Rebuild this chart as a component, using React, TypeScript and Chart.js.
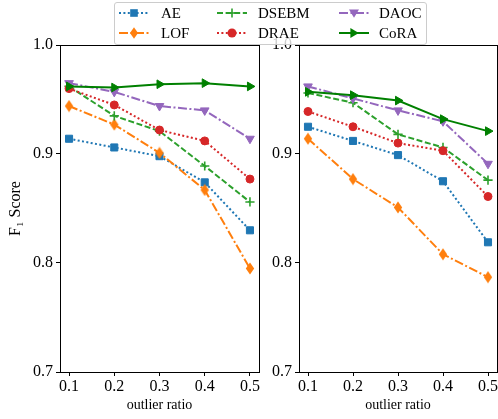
import React, { useEffect, useRef } from 'react';
import { Chart, registerables } from 'chart.js';

Chart.register(...registerables);

const ratios = [0.1, 0.2, 0.3, 0.4, 0.5];
const xTicks = [0.1, 0.2, 0.3, 0.4, 0.5];
const yTicks = [0.7, 0.8, 0.9, 1.0];
const methods = ['AE', 'LOF', 'DSEBM', 'DRAE', 'DAOC', 'CoRA'];

// left panel
const leftAE = [0.914, 0.906, 0.898, 0.874, 0.83];
const leftLOF = [0.944, 0.927, 0.901, 0.867, 0.795];
const leftDSEBM = [0.962, 0.935, 0.921, 0.889, 0.856];
const leftDRAE = [0.96, 0.945, 0.922, 0.912, 0.877];
const leftDAOC = [0.965, 0.957, 0.944, 0.94, 0.914];
const leftCoRA = [0.962, 0.961, 0.964, 0.965, 0.962];

// right panel
const rightAE = [0.925, 0.912, 0.899, 0.875, 0.819];
const rightLOF = [0.914, 0.877, 0.851, 0.808, 0.787];
const rightDSEBM = [0.956, 0.947, 0.918, 0.906, 0.876];
const rightDRAE = [0.939, 0.925, 0.91, 0.903, 0.861];
const rightDAOC = [0.962, 0.951, 0.94, 0.93, 0.891];
const rightCoRA = [0.957, 0.954, 0.949, 0.932, 0.921];

const leftSeries = [leftAE, leftLOF, leftDSEBM, leftDRAE, leftDAOC, leftCoRA];
const rightSeries = [rightAE, rightLOF, rightDSEBM, rightDRAE, rightDAOC, rightCoRA];

const colors = ['#1f77b4', '#ff7f0e', '#2ca02c', '#d62728', '#9467bd', '#008000'];
const dashes = [[2, 2.4], [9, 2.5, 2, 2.5], [6, 2.6], [2, 2.4], [9, 2.5, 2, 2.5], []];

const FONT = "'Liberation Serif', 'Times New Roman', 'DejaVu Serif', serif";

const PAGE_W = 498;
const PAGE_H = 419;
const RIGHT_CANVAS_W = 512;
const LINE_W = 2;

function thinDiamond(color: string) {
  const c = document.createElement('canvas');
  c.width = 10;
  c.height = 13;
  const ctx = c.getContext('2d')!;
  ctx.fillStyle = color;
  ctx.beginPath();
  ctx.moveTo(5, 0.5);
  ctx.lineTo(9.2, 6.5);
  ctx.lineTo(5, 12.5);
  ctx.lineTo(0.8, 6.5);
  ctx.closePath();
  ctx.fill();
  return c;
}

function pointProps(i: number) {
  const col = colors[i];
  switch (i) {
    case 0:
      return { pointStyle: 'rect', pointRadius: 5, pointBorderWidth: 1, pointRotation: 0 };
    case 1:
      return { pointStyle: thinDiamond(col), pointRadius: 5, pointBorderWidth: 0, pointRotation: 0 };
    case 2:
      return { pointStyle: 'cross', pointRadius: 4.6, pointBorderWidth: 1.6, pointRotation: 0 };
    case 3:
      return { pointStyle: 'circle', pointRadius: 4, pointBorderWidth: 1, pointRotation: 0 };
    case 4:
      return { pointStyle: 'triangle', pointRadius: 5, pointBorderWidth: 1, pointRotation: 180 };
    default:
      return { pointStyle: 'triangle', pointRadius: 5, pointBorderWidth: 1, pointRotation: 90 };
  }
}

const boxPlugin = {
  id: 'box',
  afterDraw(chart: any) {
    const { left, top, right, bottom } = chart.chartArea;
    const ctx = chart.ctx;
    ctx.save();
    ctx.strokeStyle = '#000';
    ctx.lineWidth = 1;
    ctx.strokeRect(Math.round(left) + 0.5, Math.round(top) + 0.5, Math.round(right - left), Math.round(bottom - top));
    ctx.restore();
  },
};

function makeConfig(series: number[][], isLeft: boolean): any {
  const datasets = series.map((vals, i) => ({
    label: methods[i],
    data: ratios.map((x, j) => ({ x, y: vals[j] })),
    borderColor: colors[i],
    backgroundColor: colors[i],
    pointBackgroundColor: colors[i],
    pointBorderColor: colors[i],
    borderWidth: LINE_W,
    borderDash: dashes[i],
    borderCapStyle: 'butt',
    tension: 0,
    fill: false,
    order: 5 - i,
    ...pointProps(i),
  }));
  return {
    type: 'line',
    data: { datasets },
    plugins: [boxPlugin],
    options: {
      animation: false,
      responsive: false,
      layout: {
        padding: isLeft
          ? { left: 0, top: 45, right: PAGE_W - 259, bottom: 0 }
          : { left: 250, top: 45, right: RIGHT_CANVAS_W - 497, bottom: 0 },
      },
      plugins: { legend: { display: false }, tooltip: { enabled: false } },
      scales: {
        x: {
          type: 'linear',
          min: 0.08,
          max: 0.52,
          afterBuildTicks: (s: any) => {
            s.ticks = xTicks.map((v) => ({ value: v }));
          },
          afterFit: (s: any) => {
            s.height = 47;
            s.paddingLeft = 0;
            s.paddingRight = 0;
          },
          ticks: {
            autoSkip: false,
            maxRotation: 0,
            padding: 1,
            color: '#000',
            font: { family: FONT, size: 16 },
            callback: (v: any) => Number(v).toFixed(1),
          },
          grid: { drawOnChartArea: false, drawTicks: true, tickLength: 4, tickColor: '#000', tickWidth: 1 },
          border: { display: false },
          title: {
            display: true,
            text: 'outlier ratio',
            color: '#000',
            font: { family: FONT, size: 14 },
            padding: { top: 0, bottom: 5 },
          },
        },
        y: {
          type: 'linear',
          min: 0.7,
          max: 1.0,
          afterBuildTicks: (s: any) => {
            s.ticks = yTicks.map((v) => ({ value: v }));
          },
          afterFit: (s: any) => {
            s.width = isLeft ? 60 : 49;
            s.paddingTop = 0;
            s.paddingBottom = 0;
          },
          ticks: {
            padding: 3,
            color: '#000',
            font: { family: FONT, size: 16 },
            callback: (v: any) => Number(v).toFixed(1),
          },
          grid: { drawOnChartArea: false, drawTicks: true, tickLength: 4, tickColor: '#000', tickWidth: 1 },
          border: { display: false },
          title: {
            display: isLeft,
            text: 'F\u2081 Score',
            color: '#000',
            font: { family: FONT, size: 16 },
            padding: { top: 6, bottom: 0 },
          },
        },
      },
    },
  };
}

function Marker({ i }: { i: number }) {
  const c = colors[i];
  const cx = 15;
  const cy = 7;
  switch (i) {
    case 0:
      return <rect x={cx - 3.8} y={cy - 3.8} width={7.6} height={7.6} fill={c} />;
    case 1:
      return <polygon points={`${cx},${cy - 5.8} ${cx + 4},${cy} ${cx},${cy + 5.8} ${cx - 4},${cy}`} fill={c} />;
    case 2:
      return (
        <g stroke={c} strokeWidth={1.6}>
          <line x1={cx - 4.6} y1={cy} x2={cx + 4.6} y2={cy} />
          <line x1={cx} y1={cy - 4.6} x2={cx} y2={cy + 4.6} />
        </g>
      );
    case 3:
      return <circle cx={cx} cy={cy} r={4.5} fill={c} />;
    case 4:
      return <polygon points={`${cx - 5},${cy - 3.6} ${cx + 5},${cy - 3.6} ${cx},${cy + 4.8}`} fill={c} />;
    default:
      return <polygon points={`${cx - 3.6},${cy - 5} ${cx - 3.6},${cy + 5} ${cx + 4.8},${cy}`} fill={c} />;
  }
}

const legendCols = [119, 217, 339];
const legendTextCols = [161, 258, 379];
const legendRows = [13, 33];

function Legend() {
  return (
    <>
      <div
        style={{
          position: 'absolute',
          left: 114,
          top: 2,
          width: 313,
          height: 43,
          boxSizing: 'border-box',
          border: '1px solid #cccccc',
          borderRadius: 3,
          background: 'rgba(255,255,255,0.8)',
        }}
      />
      {methods.map((m, i) => {
        const col = Math.floor(i / 2);
        const row = i % 2;
        const y = legendRows[row];
        return (
          <React.Fragment key={m}>
            <svg
              width={30}
              height={14}
              style={{ position: 'absolute', left: legendCols[col], top: y - 7, overflow: 'visible' }}
            >
              <line
                x1={0}
                y1={7}
                x2={30}
                y2={7}
                stroke={colors[i]}
                strokeWidth={LINE_W}
                strokeDasharray={dashes[i].length ? dashes[i].join(' ') : undefined}
              />
              <Marker i={i} />
            </svg>
            <div
              style={{
                position: 'absolute',
                left: legendTextCols[col],
                top: y - 10,
                height: 20,
                lineHeight: '20px',
                fontFamily: FONT,
                fontSize: 15,
                color: '#000',
                whiteSpace: 'nowrap',
              }}
            >
              {m}
            </div>
          </React.Fragment>
        );
      })}
    </>
  );
}

export default function App() {
  const leftRef = useRef<HTMLCanvasElement>(null);
  const rightRef = useRef<HTMLCanvasElement>(null);

  useEffect(() => {
    const a = new Chart(leftRef.current!, makeConfig(leftSeries, true));
    const b = new Chart(rightRef.current!, makeConfig(rightSeries, false));
    return () => {
      a.destroy();
      b.destroy();
    };
  }, []);

  return (
    <div
      style={{
        position: 'absolute',
        left: 0,
        top: 0,
        width: PAGE_W,
        height: PAGE_H,
        background: '#fff',
        overflow: 'hidden',
      }}
    >
      <canvas
        ref={leftRef}
        width={PAGE_W}
        height={PAGE_H}
        style={{ position: 'absolute', left: 0, top: 0, width: PAGE_W, height: PAGE_H }}
      />
      <canvas
        ref={rightRef}
        width={RIGHT_CANVAS_W}
        height={PAGE_H}
        style={{ position: 'absolute', left: 0, top: 0, width: RIGHT_CANVAS_W, height: PAGE_H }}
      />
      <Legend />
    </div>
  );
}
